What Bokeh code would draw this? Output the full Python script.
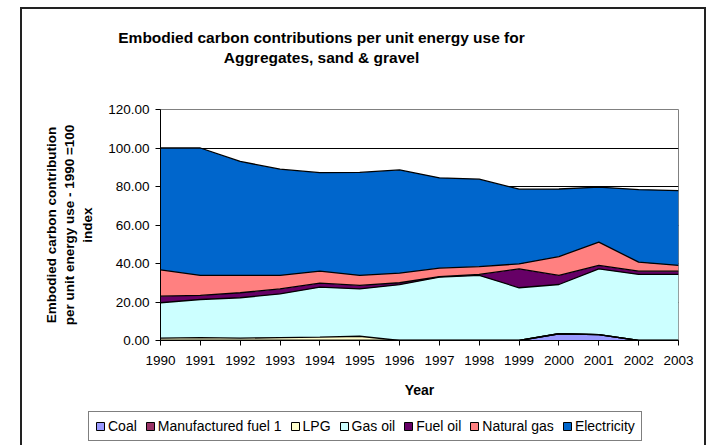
from bokeh.plotting import figure
from bokeh.layouts import column
from bokeh.models import (ColumnDataSource, Range1d, FixedTicker, NumeralTickFormatter,
                          Legend, LegendItem, Label)
from bokeh.embed import file_html
from bokeh.resources import INLINE

years = list(range(1990, 2004))
series_names = ["Coal", "Manufactured fuel 1", "LPG", "Gas oil", "Fuel oil", "Natural gas", "Electricity"]
coal = [0, 0, 0, 0, 0, 0, 0, 0, 0, 0, 3.5, 3.0, 0, 0]
manufactured_fuel = [0, 0, 0, 0, 0, 0, 0, 0, 0, 0, 0, 0, 0, 0]
lpg = [1.2, 1.5, 1.2, 1.5, 1.8, 2.2, 0, 0, 0, 0, 0, 0, 0, 0]
gas_oil = [18.4, 19.8, 21.0, 22.7, 25.9, 24.6, 29.0, 32.9, 33.8, 27.4, 25.6, 34.2, 34.3, 34.3]
fuel_oil = [3.4, 2.1, 2.6, 2.6, 2.1, 1.8, 1.0, 0.3, 0.5, 9.8, 4.7, 1.8, 1.7, 1.7]
natural_gas = [13.7, 10.4, 9.0, 7.0, 6.2, 5.2, 5.0, 4.4, 4.1, 2.6, 9.8, 12.1, 4.7, 3.0]
electricity = [63.3, 66.2, 59.2, 55.2, 51.2, 53.5, 53.6, 46.9, 45.4, 38.8, 35.1, 28.6, 37.7, 38.9]
colors = ["#9999FF", "#993366", "#FFFFCC", "#CCFFFF", "#660066", "#FF8080", "#0066CC"]
y_ticks = [0, 20, 40, 60, 80, 100, 120]
title_lines = ["Embodied carbon contributions per unit energy use for", "Aggregates, sand & gravel"]

keys = ["coal", "manuf", "lpg", "gasoil", "fueloil", "natgas", "elec"]
source = ColumnDataSource(dict(year=years, coal=coal, manuf=manufactured_fuel, lpg=lpg,
                               gasoil=gas_oil, fueloil=fuel_oil, natgas=natural_gas,
                               elec=electricity))

FONT = "Liberation Sans"
W = 686
BORDER = "2px solid #222"
side_styles = {"margin-left": "20px", "border-left": BORDER, "border-right": BORDER}


def blank_figure(height):
    f = figure(width=W, height=height, output_backend="svg", toolbar_location=None,
               x_axis_type=None, y_axis_type=None,
               x_range=Range1d(0, W), y_range=Range1d(0, height),
               min_border=0, min_border_left=0, min_border_right=0,
               min_border_top=0, min_border_bottom=0)
    f.frame_align = False
    f.outline_line_color = None
    f.xgrid.grid_line_color = None
    f.ygrid.grid_line_color = None
    f.background_fill_color = "white"
    f.border_fill_color = "white"
    return f


# ---- title panel ----
TH = 81
tfig = blank_figure(TH)
tfig.styles = dict(side_styles, **{"margin-top": "7px", "border-top": BORDER})
for txt, yy in zip(title_lines, [TH - 28, TH - 48]):
    tfig.add_layout(Label(x=299, y=yy, text=txt, text_align="center", text_baseline="middle",
                          text_font=FONT, text_font_style="bold", text_font_size="15.5px",
                          text_color="black"))

# ---- main chart ----
p = figure(width=W, height=320, output_backend="svg", toolbar_location=None,
           x_range=Range1d(years[0], years[-1]), y_range=Range1d(0, 120),
           min_border_left=138, min_border_right=30, min_border_top=21, min_border_bottom=68)
p.frame_align = False
p.styles = dict(side_styles)

p.varea_stack(stackers=keys, x="year", color=colors, source=source)
p.vline_stack(stackers=keys, x="year", color="black", line_width=1.3, source=source)

p.xaxis.ticker = FixedTicker(ticks=years)
p.yaxis.ticker = FixedTicker(ticks=y_ticks)
p.yaxis.formatter = NumeralTickFormatter(format="0.00")
for ax in (p.xaxis[0], p.yaxis[0]):
    ax.major_label_text_font = FONT
    ax.major_label_text_font_size = "13.5px"
    ax.major_label_text_color = "black"
    ax.axis_line_color = "black"
    ax.major_tick_line_color = "black"
    ax.major_tick_in = 0
    ax.major_tick_out = 5
    ax.minor_tick_line_color = None
    ax.axis_label_text_font = FONT
    ax.axis_label_text_font_style = "bold"
    ax.axis_label_text_color = "black"
p.xaxis.axis_label = "Year"
p.xaxis.axis_label_text_font_size = "14px"
p.xaxis.major_label_standoff = 10
p.xaxis.axis_label_standoff = 14
p.yaxis.axis_label = "Embodied carbon contribution\nper unit energy use - 1990 =100\nindex"
p.yaxis.axis_label_text_font_size = "13.5px"
p.yaxis.major_label_standoff = 6
p.yaxis.axis_label_standoff = 10

p.xgrid.grid_line_color = None
p.ygrid.ticker = FixedTicker(ticks=y_ticks)
p.ygrid.grid_line_color = "black"
p.outline_line_color = "#808080"
p.background_fill_color = "white"
p.border_fill_color = "white"

# ---- legend panel ----
lfig = blank_figure(37)
lfig.styles = dict(side_styles)
nan = float("nan")
items = []
for name, c in zip(series_names, colors):
    r = lfig.quad(left=[nan], right=[nan], top=[nan], bottom=[nan],
                  fill_color=c, line_color="black", line_width=1)
    items.append(LegendItem(label=name, renderers=[r]))
legend = Legend(items=items, orientation="horizontal", location=(66, 4),
                label_text_font=FONT, label_text_font_size="14px", label_text_color="black",
                glyph_width=10, glyph_height=10, label_height=14, label_standoff=3,
                spacing=8, padding=6, margin=0, border_line_color="black", border_line_width=1,
                background_fill_color="white", background_fill_alpha=1)
lfig.add_layout(legend)

layout = column(tfig, p, lfig, spacing=0)
open("out.html", "w").write(file_html(layout, INLINE))
